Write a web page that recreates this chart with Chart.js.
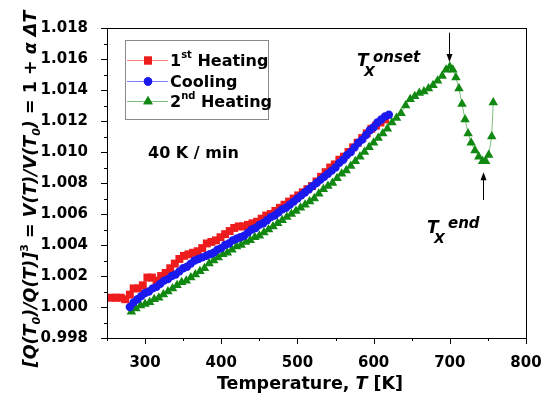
<!DOCTYPE html>
<html>
<head>
<meta charset="utf-8">
<script src="https://cdn.jsdelivr.net/npm/chart.js@4.4.0/dist/chart.umd.min.js"></script>
<style>
  body { margin: 0; background: #fff; }
  canvas { display: block; }
</style>
</head>
<body>
<canvas id="chart" width="541" height="403"></canvas>
<script>
// 1st heating (red squares)
const heat1T = [256, 262, 268, 274, 280, 285, 291, 297, 303, 309, 315, 321, 327, 333, 339, 345, 351, 357, 363, 369,
  375, 381, 387, 393, 399, 405, 411, 417, 423, 429, 435, 441, 447, 453, 459, 465, 471, 477, 483, 489,
  495, 501, 507, 513, 519, 525, 531, 537, 543, 549, 555, 561, 567, 573, 579, 585, 591, 597, 603, 609, 615];
const heat1V = [1.0006, 1.0006, 1.0006, 1.0005, 1.0008, 1.0012, 1.0012, 1.0014, 1.0019, 1.0019, 1.0017, 1.0020, 1.0022, 1.0025, 1.0028, 1.0031, 1.0033, 1.0034, 1.0035, 1.0036,
  1.0038, 1.0041, 1.0042, 1.0043, 1.0045, 1.0047, 1.0049, 1.0051, 1.0052, 1.0052, 1.0053, 1.0054, 1.0055, 1.0057, 1.0059, 1.0060, 1.0062, 1.0064, 1.0066, 1.0068,
  1.0070, 1.0072, 1.0074, 1.0076, 1.0078, 1.0081, 1.0084, 1.0087, 1.0090, 1.0092, 1.0095, 1.0097, 1.0100, 1.0103, 1.0106, 1.0109, 1.0112, 1.0115, 1.0117, 1.0119, 1.0121];

// cooling (blue circles)
const coolT = [280, 285, 290, 295, 300, 305, 310, 315, 320, 325, 330, 335, 340, 345, 350, 355, 360, 365, 370, 375,
  380, 385, 390, 395, 400, 405, 410, 415, 420, 425, 430, 435, 440, 445, 450, 455, 460, 465, 470, 475,
  480, 485, 490, 495, 500, 505, 510, 515, 520, 525, 530, 535, 540, 545, 550, 555, 560, 565, 570, 575,
  580, 585, 590, 595, 600, 605, 610, 615, 620];
const coolV = [1.0000, 1.0003, 1.0005, 1.0007, 1.0009, 1.0010, 1.0012, 1.0013, 1.0015, 1.0017, 1.0018, 1.0020, 1.0021, 1.0023, 1.0025, 1.0026, 1.0028, 1.0030, 1.0031, 1.0032,
  1.0033, 1.0034, 1.0035, 1.0037, 1.0038, 1.0040, 1.0041, 1.0043, 1.0044, 1.0045, 1.0046, 1.0048, 1.0050, 1.0051, 1.0053, 1.0054, 1.0056, 1.0058, 1.0059, 1.0061,
  1.0063, 1.0064, 1.0066, 1.0068, 1.0070, 1.0072, 1.0074, 1.0076, 1.0078, 1.0080, 1.0082, 1.0084, 1.0086, 1.0088, 1.0090, 1.0093, 1.0095, 1.0098, 1.0100, 1.0103,
  1.0106, 1.0108, 1.0111, 1.0114, 1.0116, 1.0119, 1.0121, 1.0123, 1.0124];

// 2nd heating (green triangles)
const heat2T = [282, 288, 294, 300, 306, 312, 318, 324, 330, 336, 342, 348, 354, 360, 366, 372, 378, 384, 390, 396,
  402, 408, 414, 420, 426, 432, 438, 444, 450, 456, 462, 468, 474, 480, 486, 492, 498, 504, 510, 516,
  522, 528, 534, 540, 546, 552, 558, 564, 570, 576, 582, 588, 594, 600, 606, 612, 618, 624, 630, 636,
  642, 648, 654, 660, 666, 672, 678, 684, 690, 695, 700, 704, 708, 712, 716, 720, 724, 728, 733, 738,
  743, 747, 751, 755, 757];
const heat2V = [0.9997, 0.9999, 1.0001, 1.0002, 1.0003, 1.0005, 1.0006, 1.0008, 1.0010, 1.0012, 1.0014, 1.0016, 1.0017, 1.0019, 1.0021, 1.0023, 1.0025, 1.0028, 1.0030, 1.0032,
  1.0034, 1.0035, 1.0037, 1.0039, 1.0040, 1.0042, 1.0043, 1.0045, 1.0046, 1.0048, 1.0050, 1.0052, 1.0054, 1.0056, 1.0058, 1.0060, 1.0062, 1.0064, 1.0066, 1.0068,
  1.0070, 1.0073, 1.0076, 1.0078, 1.0080, 1.0083, 1.0086, 1.0088, 1.0091, 1.0094, 1.0097, 1.0100, 1.0103, 1.0106, 1.0109, 1.0112, 1.0115, 1.0119, 1.0122, 1.0125,
  1.0130, 1.0134, 1.0136, 1.0138, 1.0139, 1.0141, 1.0143, 1.0146, 1.0149, 1.0153, 1.0155, 1.0153, 1.0148, 1.0141, 1.0131, 1.0121, 1.0112, 1.0106, 1.0101, 1.0097,
  1.0094, 1.0094, 1.0098, 1.0110, 1.0132];

const xTicks = [300, 400, 500, 600, 700, 800];
const yTicks = [0.998, 1.000, 1.002, 1.004, 1.006, 1.008, 1.010, 1.012, 1.014, 1.016, 1.018];

const FONT = '"DejaVu Sans", sans-serif';

function pts(xs, ys) {
  return xs.map((x, i) => ({ x: x, y: ys[i] }));
}

// draw a run of text pieces (sub/superscripts, italics) starting at x
function richWidth(ctx, parts) {
  let w = 0;
  parts.forEach(p => {
    ctx.font = (p.it ? 'italic ' : '') + 'bold ' + p.size + 'px ' + FONT;
    w += ctx.measureText(p.t).width;
  });
  return w;
}
function drawRich(ctx, parts, x, y) {
  parts.forEach(p => {
    ctx.font = (p.it ? 'italic ' : '') + 'bold ' + p.size + 'px ' + FONT;
    ctx.fillText(p.t, x, y + (p.dy || 0));
    x += ctx.measureText(p.t).width;
  });
}

function arrow(ctx, x, y1, y2) {
  // line from y1 to y2, head at y2
  const dir = y2 > y1 ? 1 : -1;
  ctx.beginPath();
  ctx.moveTo(x, y1);
  ctx.lineTo(x, y2 - dir * 6);
  ctx.stroke();
  ctx.beginPath();
  ctx.moveTo(x, y2);
  ctx.lineTo(x - 3, y2 - dir * 8);
  ctx.lineTo(x + 3, y2 - dir * 8);
  ctx.closePath();
  ctx.fill();
}

const overlay = {
  id: 'overlay',
  afterDraw(chart) {
    const ctx = chart.ctx;
    const a = chart.chartArea;
    const xs = chart.scales.x, ys = chart.scales.y;
    ctx.save();

    // frame
    ctx.strokeStyle = '#000';
    ctx.lineWidth = 1;
    ctx.strokeRect(a.left + 0.5, a.top + 0.5, a.right - a.left, a.bottom - a.top);

    // outward ticks (major + minor)
    ctx.beginPath();
    for (let v = 250; v <= 800; v += 50) {
      const px = Math.round(xs.getPixelForValue(v)) + 0.5;
      const len = v % 100 === 0 ? 6 : 3;
      ctx.moveTo(px, a.bottom);
      ctx.lineTo(px, a.bottom + len);
    }
    for (let k = 998; k <= 1018; k++) {
      const py = Math.round(ys.getPixelForValue(k / 1000)) + 0.5;
      const len = k % 2 === 0 ? 6 : 3;
      ctx.moveTo(a.left, py);
      ctx.lineTo(a.left - len, py);
    }
    ctx.stroke();

    // legend
    ctx.strokeStyle = '#8a8a8a';
    ctx.strokeRect(125.5, 40.5, 143, 79);
    const rows = [
      { ds: 0, y: 60, parts: [{ t: '1', size: 16 }, { t: 'st', size: 10, dy: -8 }, { t: ' Heating', size: 16 }] },
      { ds: 2, y: 81, parts: [{ t: 'Cooling', size: 16 }] },
      { ds: 1, y: 101, parts: [{ t: '2', size: 16 }, { t: 'nd', size: 10, dy: -8 }, { t: ' Heating', size: 16 }] }
    ];
    ctx.textBaseline = 'alphabetic';
    ctx.textAlign = 'left';
    rows.forEach(r => {
      const d = chart.data.datasets[r.ds];
      ctx.strokeStyle = d.borderColor;
      ctx.lineWidth = 1;
      ctx.beginPath();
      ctx.moveTo(127, r.y + 0.5);
      ctx.lineTo(168, r.y + 0.5);
      ctx.stroke();
      ctx.fillStyle = d.pointBackgroundColor;
      Chart.helpers.drawPoint(ctx, { pointStyle: d.pointStyle, radius: d.pointRadius, borderWidth: 0, rotation: 0 }, 148, r.y + 0.5);
      ctx.fill();
      ctx.fillStyle = '#000';
      drawRich(ctx, r.parts, 170, r.y + 6);
    });

    // rate label
    ctx.fillStyle = '#000';
    ctx.font = 'bold 16px ' + FONT;
    ctx.fillText('40 K / min', 148, 158);

    // Tx onset / end
    drawRich(ctx, [{ t: 'T', size: 17, it: true }], 357, 66);
    drawRich(ctx, [{ t: 'X', size: 14, it: true }], 364, 76);
    drawRich(ctx, [{ t: 'onset', size: 15, it: true }], 373, 62);
    drawRich(ctx, [{ t: 'T', size: 17, it: true }], 427, 233);
    drawRich(ctx, [{ t: 'X', size: 14, it: true }], 434, 243);
    drawRich(ctx, [{ t: 'end', size: 15, it: true }], 448, 228);

    ctx.strokeStyle = '#000';
    ctx.fillStyle = '#000';
    ctx.lineWidth = 1;
    arrow(ctx, Math.round(xs.getPixelForValue(699)) + 0.5, ys.getPixelForValue(1.0177), ys.getPixelForValue(1.0158));
    arrow(ctx, Math.round(xs.getPixelForValue(744)) + 0.5, ys.getPixelForValue(1.0069), ys.getPixelForValue(1.0087));

    // x title
    const xt = [{ t: 'Temperature, ', size: 17.5 }, { t: 'T', size: 17.5, it: true }, { t: ' [K]', size: 17.5 }];
    const xw = richWidth(ctx, xt);
    drawRich(ctx, xt, 310 - xw / 2, 389);

    // y title, rotated
    const yt = [
      { t: '[Q(T', size: 17.5, it: true }, { t: '0', size: 11, it: true, dy: 4 }, { t: ')/Q(T)]', size: 17.5, it: true },
      { t: '3', size: 11, dy: -8 }, { t: ' = ', size: 17.5 }, { t: 'V(T)/V(T', size: 17.5, it: true },
      { t: '0', size: 11, it: true, dy: 4 }, { t: ')', size: 17.5, it: true }, { t: ' = 1 + ', size: 17.5 },
      { t: '\u03b1 \u0394T', size: 17.5, it: true }
    ];
    const yw = richWidth(ctx, yt);
    ctx.translate(36, 189);
    ctx.rotate(-Math.PI / 2);
    drawRich(ctx, yt, -yw / 2, 0);
    ctx.restore();
  }
};

const tickFont = { family: FONT, weight: 'bold', size: 15 };

new Chart(document.getElementById('chart'), {
  type: 'line',
  data: {
    datasets: [
      {
        label: '1st Heating',
        data: pts(heat1T, heat1V),
        borderColor: '#ff8080',
        backgroundColor: '#ee1c1c',
        pointBackgroundColor: '#ee1c1c',
        pointBorderWidth: 0,
        pointStyle: 'rect',
        pointRadius: 5.6,
        borderWidth: 1,
        order: 2
      },
      {
        label: '2nd Heating',
        data: pts(heat2T, heat2V),
        borderColor: '#7fbf7f',
        backgroundColor: '#118811',
        pointBackgroundColor: '#118811',
        pointBorderWidth: 0,
        pointStyle: 'triangle',
        pointRadius: 5.5,
        borderWidth: 1,
        order: 1
      },
      {
        label: 'Cooling',
        data: pts(coolT, coolV),
        borderColor: '#8080ff',
        backgroundColor: '#1a1aee',
        pointBackgroundColor: '#1a1aee',
        pointBorderWidth: 0,
        pointStyle: 'circle',
        pointRadius: 4.2,
        borderWidth: 1,
        order: 0
      }
    ]
  },
  options: {
    responsive: false,
    animation: false,
    layout: { padding: { left: 0, top: 28, right: 15, bottom: 0 } },
    plugins: { legend: { display: false }, tooltip: { enabled: false } },
    scales: {
      x: {
        type: 'linear',
        min: 250,
        max: 800,
        afterBuildTicks: s => { s.ticks = xTicks.map(v => ({ value: v })); },
        ticks: { font: tickFont, color: '#000', padding: 8, maxRotation: 0, autoSkip: false },
        grid: { display: false },
        border: { display: false },
        afterFit: s => { s.height = 65; s.paddingRight = 0; s.paddingLeft = 0; }
      },
      y: {
        min: 0.998,
        max: 1.018,
        afterBuildTicks: s => { s.ticks = yTicks.map(v => ({ value: v })); },
        ticks: { font: tickFont, color: '#000', padding: 11, autoSkip: false, callback: v => v.toFixed(3) },
        grid: { display: false },
        border: { display: false },
        afterFit: s => { s.width = 107; s.paddingTop = 0; s.paddingBottom = 0; }
      }
    }
  },
  plugins: [overlay]
});
</script>
</body>
</html>
